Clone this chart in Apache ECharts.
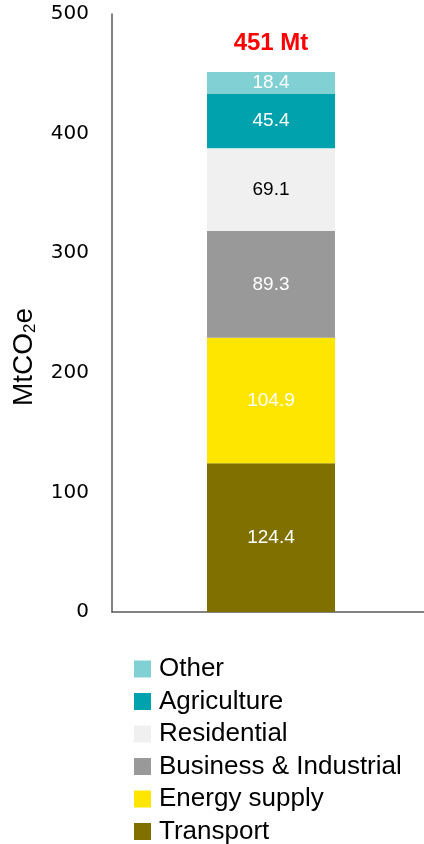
<!DOCTYPE html>
<html>
<head>
<meta charset="utf-8">
<script src="https://cdn.jsdelivr.net/npm/echarts@6/dist/echarts.min.js"></script>
<style>
  html, body { margin: 0; padding: 0; background: #fff; overflow: hidden; }
  #chart { width: 430px; height: 844px; }
</style>
</head>
<body>
<div id="chart"></div>
<script>
// Emissions by sector, MtCO2e (stacked, bottom to top)
const categories = ['Total'];
const sectors = ['Transport', 'Energy supply', 'Business & Industrial', 'Residential', 'Agriculture', 'Other'];
const values = [124.4, 104.9, 89.3, 69.1, 45.4, 18.4];
const colors = ['#7F7000', '#FFE600', '#999999', '#F0F0F0', '#00A3AD', '#80D0D4'];
const labelColors = ['#fff', '#fff', '#fff', '#000', '#fff', '#fff'];
const legendOrder = ['Other', 'Agriculture', 'Residential', 'Business & Industrial', 'Energy supply', 'Transport'];
const yTicks = { min: 0, max: 500, interval: 100 };

const total = values.reduce((a, b) => a + b, 0);

const series = sectors.map((name, i) => ({
  name,
  type: 'bar',
  stack: 'all',
  barWidth: 128,
  data: [values[i]],
  itemStyle: { color: colors[i] },
  label: {
    show: true,
    position: 'inside',
    formatter: p => p.value.toFixed(1),
    color: labelColors[i],
    fontFamily: 'Liberation Sans',
    fontSize: 19
  }
}));

// Total label sits on an empty segment at the top of the stack
series.push({
  name: 'total',
  type: 'bar',
  stack: 'all',
  barWidth: 128,
  data: [0],
  itemStyle: { color: 'transparent' },
  label: {
    show: true,
    position: 'top',
    distance: 17,
    formatter: () => Math.floor(total) + ' Mt',
    color: '#FF0000',
    fontWeight: 'bold',
    fontFamily: 'Liberation Sans',
    fontSize: 24
  },
  tooltip: { show: false }
});

const chart = echarts.init(document.getElementById('chart'));
chart.setOption({
  animation: false,
  grid: { left: 112, right: 0, top: 14, bottom: 232, containLabel: false },
  xAxis: {
    type: 'category',
    data: categories,
    axisLine: { lineStyle: { color: '#595959', width: 1.5 } },
    axisTick: { show: false },
    axisLabel: { show: false }
  },
  yAxis: {
    type: 'value',
    min: yTicks.min,
    max: yTicks.max,
    interval: yTicks.interval,
    axisLine: { show: true, lineStyle: { color: '#595959', width: 1.5 } },
    axisTick: { show: false },
    splitLine: { show: false },
    axisLabel: {
      margin: 23,
      color: '#000',
      fontFamily: 'DejaVu Sans',
      fontSize: 20
    }
  },
  legend: {
    data: legendOrder,
    orient: 'vertical',
    left: 134,
    top: 656,
    height: 200,
    padding: 0,
    itemWidth: 17,
    itemHeight: 17,
    itemGap: 6.5,
    icon: 'rect',
    textStyle: {
      color: '#000',
      fontFamily: 'Liberation Sans',
      fontSize: 26,
      lineHeight: 26,
      padding: [0, 0, 0, 3]
    }
  },
  graphic: [{
    type: 'text',
    x: 24,
    y: 357,
    rotation: Math.PI / 2,
    style: {
      text: '{a|MtCO}{b|2}{a|e}',
      align: 'center',
      verticalAlign: 'middle',
      rich: {
        a: { fontFamily: 'Liberation Sans', fontSize: 28, fill: '#000' },
        b: { fontFamily: 'Liberation Sans', fontSize: 17, fill: '#000', padding: [13, 0, 0, 0] }
      }
    }
  }],
  series
});
</script>
</body>
</html>
